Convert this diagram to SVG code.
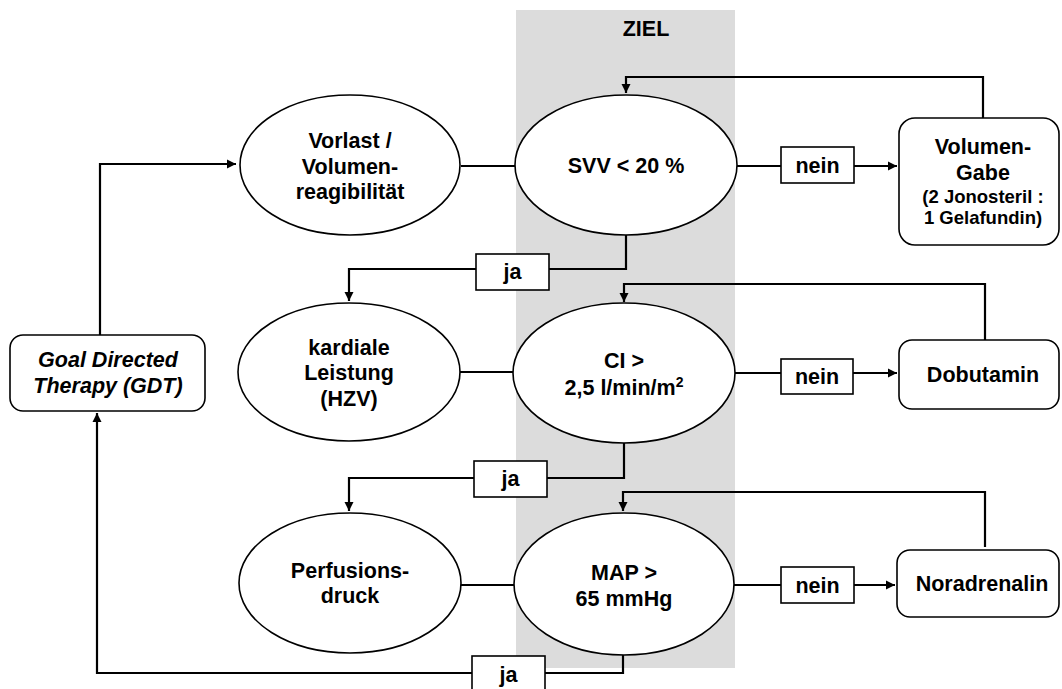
<svg xmlns="http://www.w3.org/2000/svg" width="1062" height="689" viewBox="0 0 1062 689">
<style>
  text { font-family: "Liberation Sans", Arial, sans-serif; font-weight: bold; fill: #000; text-anchor: middle; }
  .t { font-size: 21.5px; }
  .s { font-size: 18.5px; }
  .i { font-style: italic; }
  .ell { fill: #fff; stroke: #000; stroke-width: 1.6; }
  .box { fill: #fff; stroke: #000; stroke-width: 1.6; }
  .lbl { fill: #fff; stroke: #000; stroke-width: 1.6; }
  .con { fill: none; stroke: #000; stroke-width: 2.2; }
</style>
<defs>
  <marker id="arr" markerWidth="10" markerHeight="10" refX="9" refY="5" orient="auto" markerUnits="userSpaceOnUse">
    <path d="M0,0.5 L9,5 L0,9.5 Z" fill="#000"/>
  </marker>
</defs>
<rect x="0" y="0" width="1062" height="689" fill="#fff"/>
<rect id="ziel-band" x="516" y="10" width="219" height="658" fill="#dcdcdc"/>
<text class="t" x="646" y="36">ZIEL</text>

<g id="connectors">
  <path class="con" d="M100,335 L100,164 L236,164" marker-end="url(#arr)"/>
  <path class="con" d="M461,166 L515,166"/>
  <path class="con" d="M460,372 L513,372"/>
  <path class="con" d="M460,585 L514,585"/>
  <path class="con" d="M737,166 L781,166"/>
  <path class="con" d="M854,166 L897,166" marker-end="url(#arr)"/>
  <path class="con" d="M735,373 L781,373"/>
  <path class="con" d="M853,373 L897,373" marker-end="url(#arr)"/>
  <path class="con" d="M734,585 L781,585"/>
  <path class="con" d="M854,585 L895,585" marker-end="url(#arr)"/>
  <path class="con" d="M983,118 L983,77 L626,77 L626,93" marker-end="url(#arr)"/>
  <path class="con" d="M985,340 L985,284 L624,284 L624,302" marker-end="url(#arr)"/>
  <path class="con" d="M985,547 L985,492 L623,492 L623,511" marker-end="url(#arr)"/>
  <path class="con" d="M626,235 L626,269 L549,269"/>
  <path class="con" d="M476,269 L349,269 L349,301" marker-end="url(#arr)"/>
  <path class="con" d="M624,443 L624,478 L547,478"/>
  <path class="con" d="M474,478 L349,478 L349,511" marker-end="url(#arr)"/>
  <path class="con" d="M623,655 L623,673 L545,673"/>
  <path class="con" d="M472,673 L97,673 L97,413" marker-end="url(#arr)"/>
</g>

<g id="gdt">
  <rect class="box" x="10" y="335" width="195" height="76" rx="13"/>
  <text class="t i" x="108" y="367">Goal Directed</text>
  <text class="t i" x="108" y="393">Therapy (GDT)</text>
</g>

<g id="vorlast">
  <ellipse class="ell" cx="350" cy="165" rx="110" ry="70"/>
  <text class="t" x="350" y="148">Vorlast /</text>
  <text class="t" x="350" y="174">Volumen-</text>
  <text class="t" x="350" y="199">reagibilität</text>
</g>

<g id="kardial">
  <ellipse class="ell" cx="349" cy="372" rx="111" ry="69"/>
  <text class="t" x="349" y="355">kardiale</text>
  <text class="t" x="349" y="380">Leistung</text>
  <text class="t" x="349" y="406">(HZV)</text>
</g>

<g id="perfusion">
  <ellipse class="ell" cx="350" cy="583" rx="111" ry="70"/>
  <text class="t" x="350" y="578">Perfusions-</text>
  <text class="t" x="350" y="603">druck</text>
</g>

<g id="svv">
  <ellipse class="ell" cx="626" cy="165" rx="111" ry="70"/>
  <text class="t" x="626" y="173">SVV &lt; 20 %</text>
</g>

<g id="ci">
  <ellipse class="ell" cx="624" cy="373" rx="111" ry="70"/>
  <text class="t" x="624" y="368">CI &gt;</text>
  <text class="t" x="624" y="395">2,5 l/min/m<tspan font-size="14" dy="-8">2</tspan></text>
</g>

<g id="map">
  <ellipse class="ell" cx="624" cy="584" rx="110" ry="71"/>
  <text class="t" x="624" y="580">MAP &gt;</text>
  <text class="t" x="624" y="606">65 mmHg</text>
</g>

<g id="nein1">
  <rect class="lbl" x="781" y="147" width="73" height="36"/>
  <text class="t" x="817.5" y="173">nein</text>
</g>
<g id="nein2">
  <rect class="lbl" x="781" y="359" width="72" height="35"/>
  <text class="t" x="817" y="384">nein</text>
</g>
<g id="nein3">
  <rect class="lbl" x="781" y="567" width="73" height="36"/>
  <text class="t" x="817.5" y="593">nein</text>
</g>

<g id="ja1">
  <rect class="lbl" x="476" y="254" width="73" height="36"/>
  <text class="t" x="512.5" y="279">ja</text>
</g>
<g id="ja2">
  <rect class="lbl" x="474" y="461" width="73" height="36"/>
  <text class="t" x="510.5" y="486">ja</text>
</g>
<g id="ja3">
  <rect class="lbl" x="472" y="656" width="73" height="40"/>
  <text class="t" x="508.5" y="682">ja</text>
</g>

<g id="volumen">
  <rect class="box" x="899" y="118" width="160" height="127" rx="16"/>
  <text class="t" x="983" y="154">Volumen-</text>
  <text class="t" x="983" y="180">Gabe</text>
  <text class="s" x="983" y="203">(2 Jonosteril :</text>
  <text class="s" x="983" y="224">1 Gelafundin)</text>
</g>

<g id="dobutamin">
  <rect class="box" x="899" y="340" width="160" height="69" rx="13"/>
  <text class="t" x="983" y="382">Dobutamin</text>
</g>

<g id="noradrenalin">
  <rect class="box" x="897" y="550" width="162" height="67" rx="13"/>
  <text class="t" x="982" y="591">Noradrenalin</text>
</g>
</svg>
